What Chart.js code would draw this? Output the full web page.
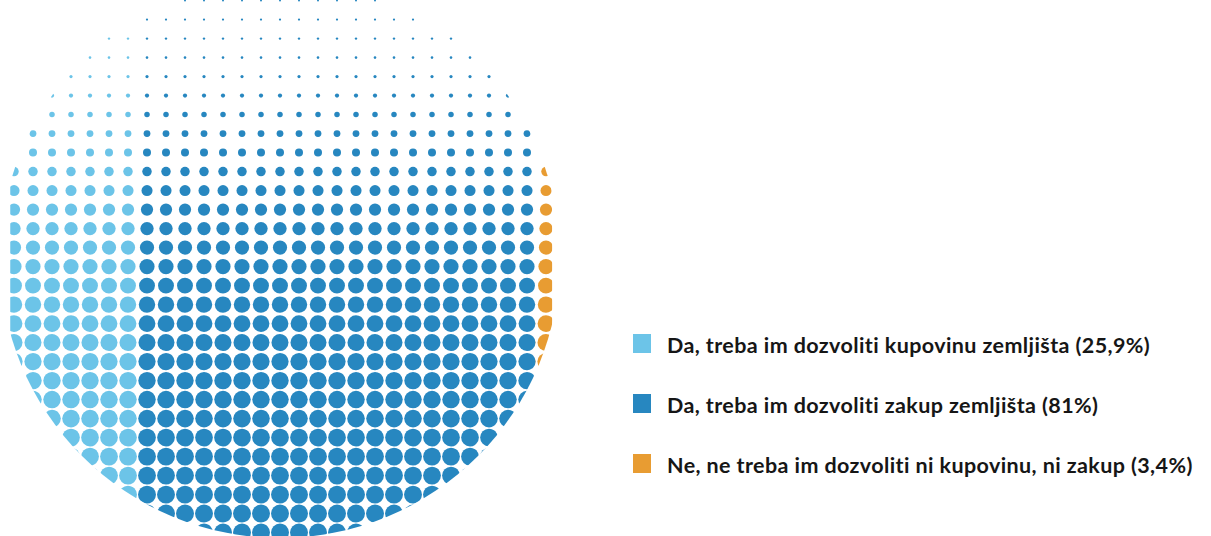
<!DOCTYPE html>
<html lang="hr">
<head>
  <meta charset="UTF-8" />
  <title>Dozvoliti kupovinu ili zakup zemljišta</title>
  <script src="https://cdn.jsdelivr.net/npm/chart.js"></script>
  <style>
    body { margin: 0; background: #fff; width: 1211px; height: 536px; overflow: hidden; position: relative; font-family: Lato, "Open Sans", sans-serif; }
    #wrap { position: absolute; left: 0; top: 0; width: 600px; height: 536px; }
    #legend { position: absolute; left: 633px; top: 0; }
    .item { position: absolute; left: 0; white-space: nowrap; }
    .box { position: absolute; left: 0; top: 0; width: 18px; height: 19px; }
    .txt { position: absolute; left: 34px; font-weight: 700; font-size: 21.5px; letter-spacing: 0.4px; line-height: 26px; color: #161616; }
  </style>
</head>
<body>
  <div id="wrap"><canvas id="chart"></canvas></div>
  <div id="legend"></div>

  <script>
    // answers and their shares (as printed, they do not add up to 100)
    const answers = [
      'Da, treba im dozvoliti kupovinu zemljišta',
      'Da, treba im dozvoliti zakup zemljišta',
      'Ne, ne treba im dozvoliti ni kupovinu, ni zakup'
    ];
    const shares = [25.9, 81, 3.4];
    const colors = ['#6cc4e8', '#2787c0', '#e89c32'];

    // halftone look: dot diameter per row, growing towards the bottom
    const step = 19;
    const dotDiam = [2, 2.2, 2.4, 2.6, 3.2, 4.2, 5.5, 6.8, 8, 9.5, 11, 12.2, 13.3, 14.2, 15.2,
      15.9, 16.4, 16.8, 17, 17.2, 17.4, 17.5, 17.6, 17.7, 17.8, 17.8, 17.9, 18, 18, 18];

    const dotPattern = (color) => {
      const c = document.createElement('canvas');
      c.width = step;
      c.height = step * dotDiam.length;
      const g = c.getContext('2d');
      g.fillStyle = color;
      dotDiam.forEach((d, k) => {
        // dot centre sits at x=14, so draw the wrapped copy too
        [14, 14 - step].forEach(x => {
          g.beginPath();
          g.arc(x, 0.6 + k * step, d / 2, 0, Math.PI * 2);
          g.fill();
        });
      });
      return g.createPattern(c, 'repeat-x');
    };

    const total = shares.reduce((a, b) => a + b, 0);

    // cut the stacked bar into a round shape
    const circleClip = {
      id: 'circleClip',
      beforeDatasetsDraw(chart) {
        const ctx = chart.ctx;
        ctx.save();
        ctx.beginPath();
        ctx.arc(280, 258, 280, 0, Math.PI * 2);
        ctx.clip();
      },
      afterDatasetsDraw(chart) {
        chart.ctx.restore();
      }
    };

    new Chart(document.getElementById('chart'), {
      type: 'bar',
      data: {
        labels: ['odgovor'],
        datasets: answers.map((a, i) => ({
          label: a,
          data: [shares[i]],
          backgroundColor: dotPattern(colors[i]),
          borderWidth: 0,
          barPercentage: 1,
          categoryPercentage: 1
        }))
      },
      options: {
        indexAxis: 'y',
        responsive: true,
        maintainAspectRatio: false,
        animation: false,
        layout: { padding: { left: 10.24, right: 47.8, top: 0, bottom: 0 } },
        scales: {
          x: { stacked: true, min: 0, max: total, display: false },
          y: { stacked: true, display: false }
        },
        plugins: { legend: { display: false }, tooltip: { enabled: false } }
      },
      plugins: [circleClip]
    });

    // legend
    const legend = document.getElementById('legend');
    answers.forEach((a, i) => {
      const item = document.createElement('div');
      item.className = 'item';
      item.style.top = (334 + i * 60) + 'px';
      const box = document.createElement('span');
      box.className = 'box';
      box.style.background = colors[i];
      const txt = document.createElement('span');
      txt.className = 'txt';
      txt.style.top = '-2px';
      txt.textContent = a + ' (' + String(shares[i]).replace('.', ',') + '%)';
      item.appendChild(box);
      item.appendChild(txt);
      legend.appendChild(item);
    });
  </script>
</body>
</html>
